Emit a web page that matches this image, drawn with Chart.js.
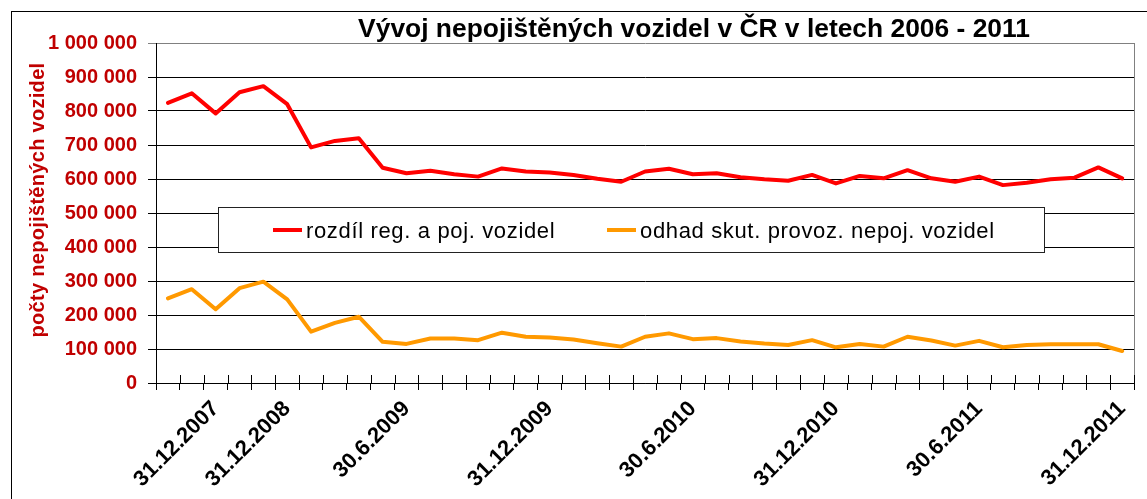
<!DOCTYPE html>
<html>
<head>
<meta charset="utf-8">
<script src="https://cdn.jsdelivr.net/npm/chart.js@4/dist/chart.umd.min.js"></script>
<style>
html,body{margin:0;padding:0;background:#fff;}
canvas{display:block;}
</style>
</head>
<body>
<canvas id="c" width="1147" height="499"></canvas>
<script>
const chartTitle = 'Vývoj nepojištěných vozidel v ČR v letech 2006 - 2011';
const yAxisTitle = 'počty nepojištěných vozidel';
const seriesNames = ['rozdíl reg. a poj. vozidel', 'odhad skut. provoz. nepoj. vozidel'];
const categories = [
  '', '', '31.12.2007', '', '', '31.12.2008', '', '', '', '', '30.6.2009',
  '', '', '', '', '', '31.12.2009', '', '', '', '', '', '30.6.2010',
  '', '', '', '', '', '31.12.2010', '', '', '', '', '', '30.6.2011',
  '', '', '', '', '', '31.12.2011'
];
const rozdil = [
  824000, 852000, 793000, 855000, 873000, 820000, 693000, 712000, 720000, 633000,
  617000, 624000, 614000, 607000, 631000, 622000, 619000, 612000, 601000, 592000,
  622000, 630000, 614000, 617000, 605000, 599000, 595000, 612000, 587000, 609000,
  602000, 626000, 602000, 592000, 607000, 582000, 589000, 599000, 604000, 634000,
  602000
];
const odhad = [
  249000, 276000, 217000, 279000, 298000, 246000, 151000, 177000, 195000, 121000,
  115000, 131000, 131000, 126000, 148000, 136000, 134000, 128000, 117000, 107000,
  136000, 146000, 129000, 132000, 122000, 116000, 112000, 126000, 105000, 115000,
  107000, 136000, 125000, 110000, 124000, 105000, 112000, 114000, 114000, 114000,
  94000
];
const yMin = 0, yMax = 1000000, yStep = 100000;

const FONT = "'Liberation Sans', Arial, sans-serif";
const RED = '#FF0000', ORANGE = '#FF9900', DARKRED = '#C00000';

const decor = {
  id: 'decor',
  beforeDraw(chart) {
    const c = chart.ctx;
    c.save();
    c.fillStyle = '#fff';
    c.fillRect(0, 0, chart.width, chart.height);
    c.strokeStyle = '#000';
    c.lineWidth = 1;
    c.strokeRect(11.5, 11.5, chart.width + 20, chart.height + 20);
    c.restore();
  },
  afterDraw(chart) {
    const c = chart.ctx;
    const a = chart.chartArea;
    const xs = chart.scales.x;
    c.save();
    c.strokeStyle = '#808080';
    c.lineWidth = 1;
    c.beginPath();
    c.moveTo(Math.round(a.right) + 0.5, a.top);
    c.lineTo(Math.round(a.right) + 0.5, a.bottom);
    c.stroke();
    c.strokeStyle = '#000';
    c.beginPath();
    for (let i = 0; i <= categories.length; i++) {
      const px = Math.round(xs.getPixelForValue(i - 0.5)) + 0.5;
      c.moveTo(px, a.bottom);
      c.lineTo(px, a.bottom - 8);
    }
    c.stroke();
    // title
    c.fillStyle = '#000';
    c.font = 'bold 26.4px ' + FONT;
    c.textAlign = 'center';
    c.textBaseline = 'alphabetic';
    c.fillText(chartTitle, 694, 37);
    // y axis title
    c.save();
    c.translate(44, 200);
    c.rotate(-Math.PI / 2);
    c.fillStyle = DARKRED;
    c.font = 'bold 20px ' + FONT;
    c.letterSpacing = '0.3px';
    c.textAlign = 'center';
    c.fillText(yAxisTitle, 0, 0);
    c.restore();
    // legend
    c.fillStyle = '#fff';
    c.fillRect(218.5, 207.5, 826, 45);
    c.strokeStyle = '#222';
    c.lineWidth = 1;
    c.strokeRect(218.5, 207.5, 826, 45);
    const ds = chart.data.datasets;
    const items = [{x: 273, tx: 306}, {x: 607, tx: 640}];
    c.font = '22px ' + FONT;
    c.letterSpacing = '0.65px';
    c.textAlign = 'left';
    c.textBaseline = 'alphabetic';
    items.forEach((it, k) => {
      c.strokeStyle = ds[k].borderColor;
      c.lineWidth = 4;
      c.lineCap = 'butt';
      c.beginPath();
      c.moveTo(it.x, 230);
      c.lineTo(it.x + 29, 230);
      c.stroke();
      c.fillStyle = '#000';
      c.fillText(ds[k].label, it.tx, 238);
    });
    c.restore();
  }
};

new Chart(document.getElementById('c'), {
  type: 'line',
  data: {
    labels: categories,
    datasets: [
      {label: seriesNames[0], data: rozdil, borderColor: RED, backgroundColor: RED, borderWidth: 4,
       pointRadius: 0, tension: 0, borderJoinStyle: 'round', borderCapStyle: 'round'},
      {label: seriesNames[1], data: odhad, borderColor: ORANGE, backgroundColor: ORANGE, borderWidth: 4,
       pointRadius: 0, tension: 0, borderJoinStyle: 'round', borderCapStyle: 'round'}
    ]
  },
  options: {
    responsive: false,
    animation: false,
    events: [],
    layout: {padding: {top: 43, right: 10, left: 0, bottom: 0}},
    plugins: {legend: {display: false}, title: {display: false}, tooltip: {enabled: false}},
    scales: {
      x: {
        type: 'category',
        offset: true,
        grid: {offset: true, drawOnChartArea: false, drawTicks: true, tickLength: 7, color: '#000', lineWidth: 1},
        border: {color: '#000', width: 1},
        ticks: {autoSkip: false, maxRotation: 45, minRotation: 45, color: '#000', padding: 6,
                font: {family: FONT, size: 22, weight: 'bold'}},
        afterFit(s) { s.height = 116; }
      },
      y: {
        min: yMin, max: yMax,
        ticks: {stepSize: yStep, color: DARKRED, padding: 11,
                font: {family: FONT, size: 20, weight: 'bold'},
                callback: v => String(v).replace(/\B(?=(\d{3})+(?!\d))/g, ' ')},
        grid: {color: ctx => (ctx.tick && ctx.tick.value === yMax) ? '#808080' : '#000', lineWidth: 1, tickLength: 8},
        border: {color: '#000', width: 1},
        afterFit(s) { s.width = 156; }
      }
    }
  },
  plugins: [decor]
});
</script>
</body>
</html>
